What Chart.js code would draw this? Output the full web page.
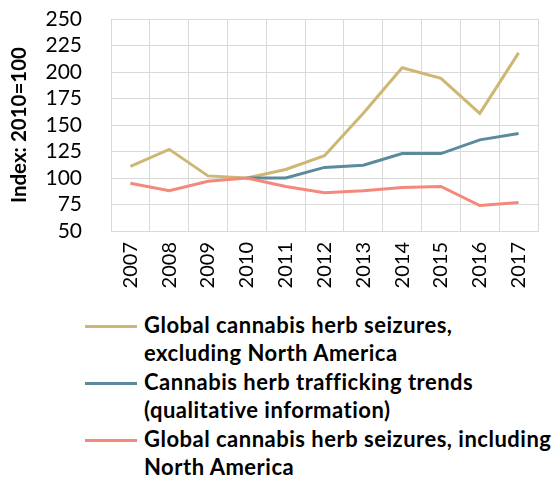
<!DOCTYPE html>
<html>
<head>
<meta charset="utf-8">
<script src="https://cdn.jsdelivr.net/npm/chart.js@4/dist/chart.umd.min.js"></script>
<style>
html,body{margin:0;padding:0;background:#fff;width:555px;height:479px;overflow:hidden;font-family:Lato,"Liberation Sans",sans-serif;}
#wrap{position:absolute;left:0;top:0;width:555px;height:300px;}
#legend{position:absolute;left:85px;top:311px;width:470px;}
.item{display:flex;align-items:flex-start;}
.sw{width:52px;height:3px;margin-top:14px;margin-right:7px;flex:none;}
.txt{font-weight:bold;font-size:22px;line-height:28.4px;letter-spacing:0.5px;color:#000;white-space:nowrap;}
</style>
</head>
<body>
<div id="wrap"><canvas id="c" width="555" height="300"></canvas></div>
<div id="legend"></div>
<script>
const years = ["2007","2008","2009","2010","2011","2012","2013","2014","2015","2016","2017"];
const seriesNames = [
  "Global cannabis herb seizures,<br>excluding North America",
  "Cannabis herb trafficking trends<br>(qualitative information)",
  "Global cannabis herb seizures, including<br>North America"
];
const exclNA = [111, 127, 102, 100, 108, 121, 161, 204, 194, 161, 218];
const trends = [null, null, null, 100, 100, 110, 112, 123, 123, 136, 142];
const inclNA = [95, 88, 97, 100, 92, 86, 88, 91, 92, 74, 77];
const yTicks = [50, 75, 100, 125, 150, 175, 200, 225, 250];
const colors = ["#CDB773", "#5B8A9C", "#F4897B"];

const FONT = "Lato, 'Liberation Sans', sans-serif";
const dsData = [exclNA, trends, inclNA];
new Chart(document.getElementById('c'), {
  type: 'line',
  data: {
    labels: years,
    datasets: dsData.map((d, i) => ({
      label: seriesNames[i].replace('<br>', ' '),
      data: d,
      borderColor: colors[i],
      backgroundColor: colors[i],
      borderWidth: 3,
      pointRadius: 0,
      tension: 0,
      spanGaps: false
    })).reverse()
  },
  options: {
    responsive: false,
    animation: false,
    layout: {padding: {left: 0, right: 17, top: 19, bottom: 0}},
    plugins: {legend: {display: false}, tooltip: {enabled: false}, title: {display: false}},
    scales: {
      x: {
        offset: true,
        grid: {offset: true, color: '#d9d9d9', lineWidth: 1, drawTicks: false},
        border: {color: '#d9d9d9'},
        ticks: {color: '#000', font: {family: FONT, size: 20}, minRotation: 90, maxRotation: 90, padding: 11, autoSkip: false},
        afterFit: s => { s.height = 69; }
      },
      y: {
        min: 50, max: 250,
        afterBuildTicks: s => { s.ticks = yTicks.map(v => ({value: v})); },
        grid: {color: '#d9d9d9', lineWidth: 1, drawTicks: false},
        border: {color: '#d9d9d9'},
        ticks: {color: '#000', font: {family: FONT, size: 21}, padding: 29, autoSkip: false},
        title: {display: true, text: 'Index: 2010=100', color: '#000', font: {family: FONT, size: 20.5, weight: 'bold'}, padding: {top: 7, bottom: 0}},
        afterFit: s => { s.width = 111; s.paddingTop = 0; s.paddingBottom = 0; }
      }
    }
  }
});

const lg = document.getElementById('legend');
seriesNames.forEach((n, i) => {
  const it = document.createElement('div');
  it.className = 'item';
  it.innerHTML = '<div class="sw" style="background:' + colors[i] + '"></div><div class="txt">' + n + '</div>';
  lg.appendChild(it);
});
</script>
</body>
</html>
